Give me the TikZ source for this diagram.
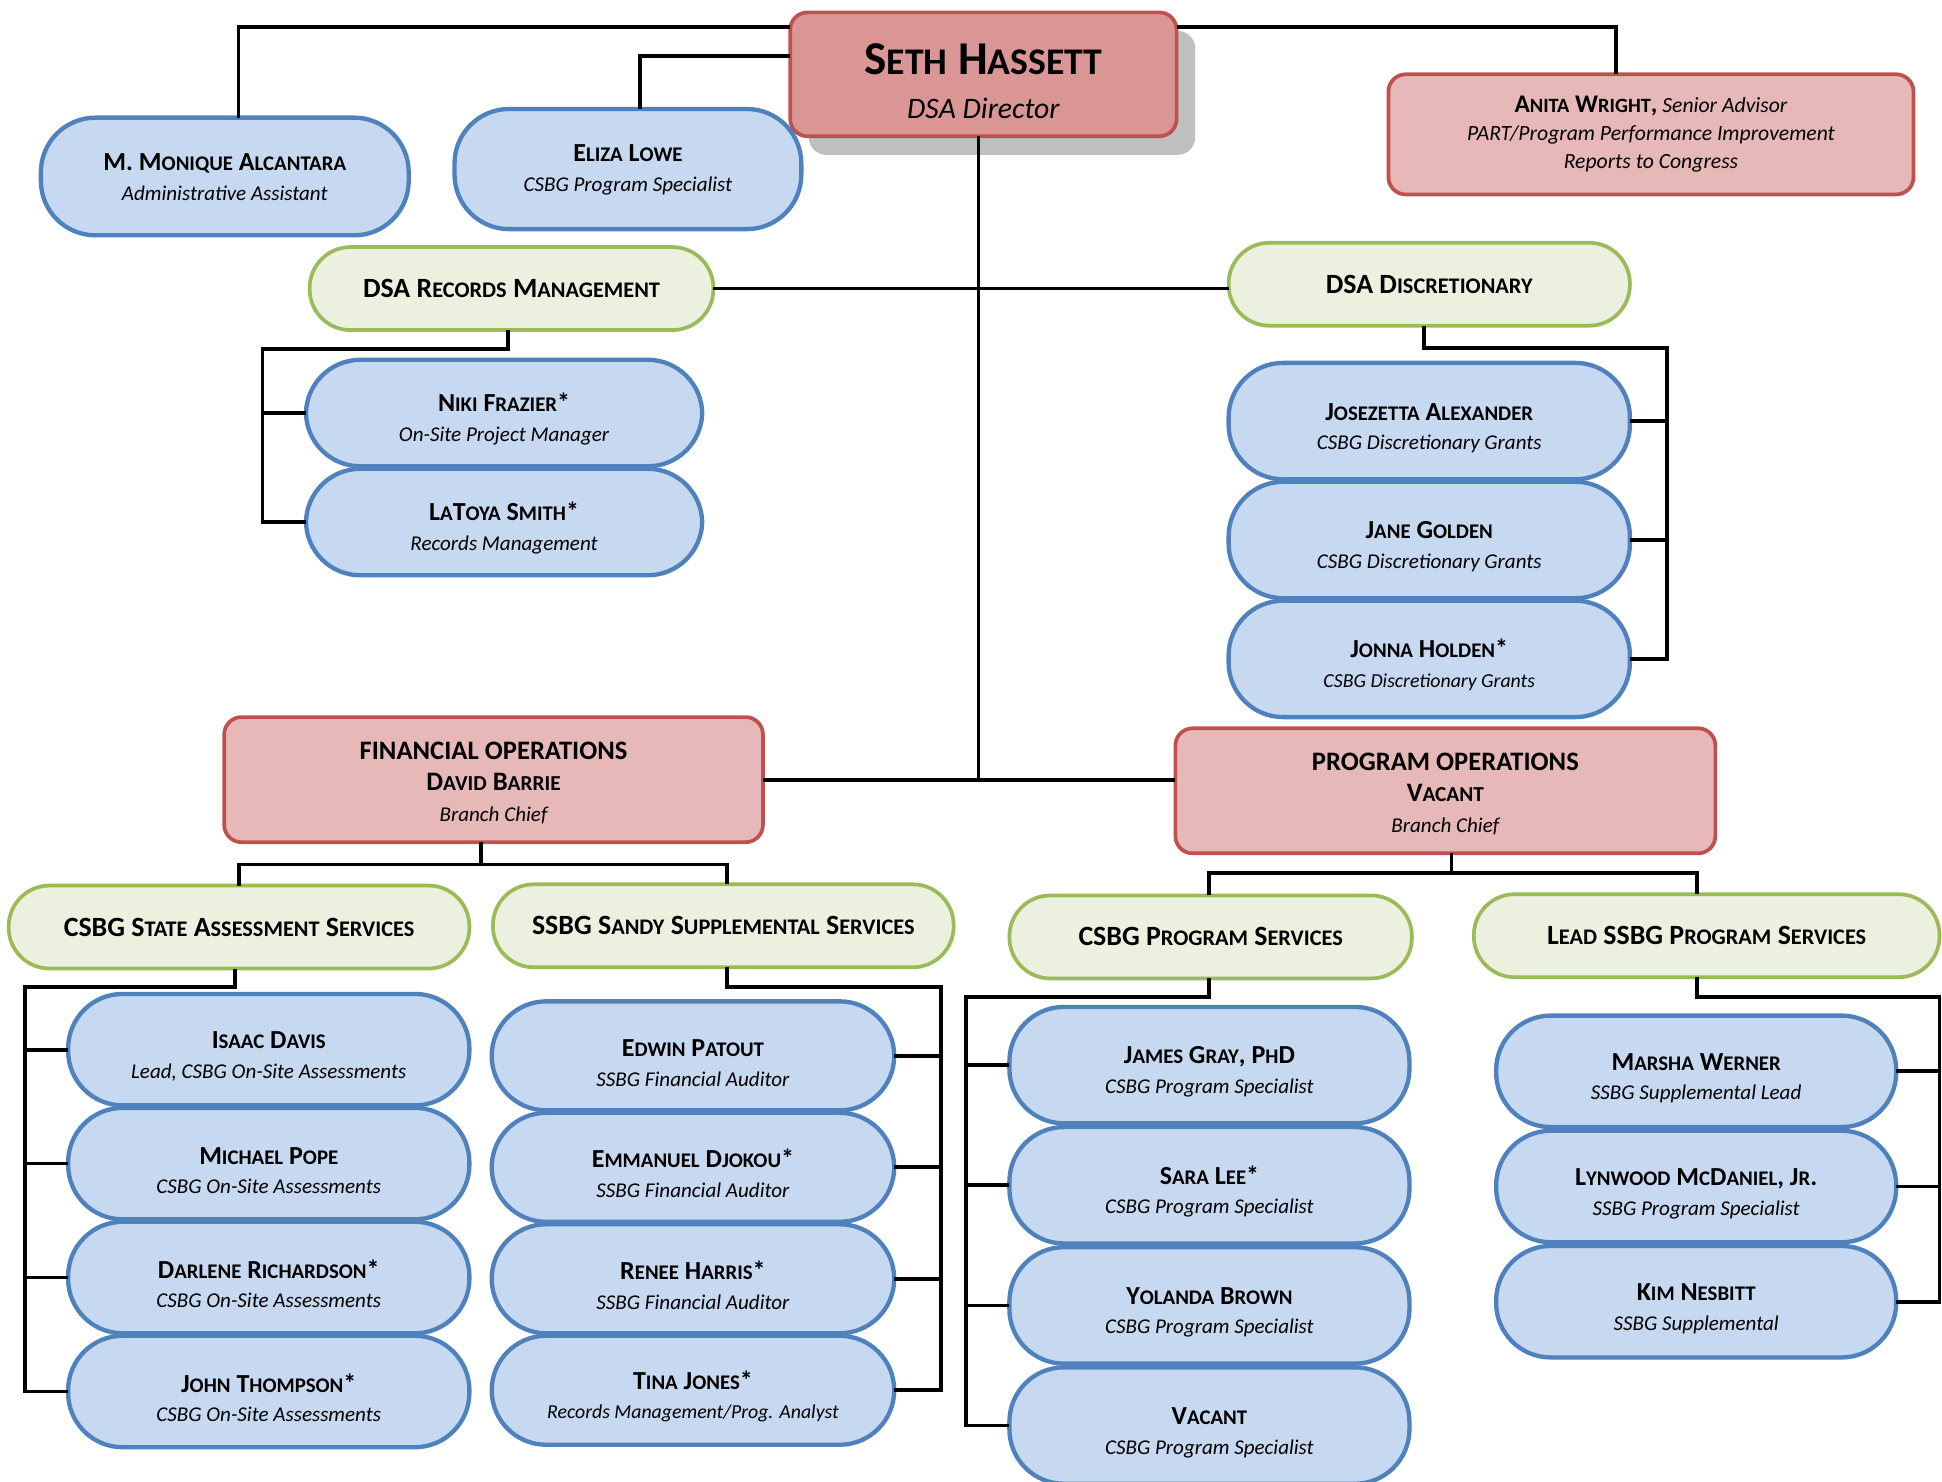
\documentclass[tikz,border=0pt]{standalone}
\usepackage{fontspec}
\setmainfont{Carlito}
\usetikzlibrary{positioning, calc, shadows}
\definecolor{StaffBlue}{HTML}{C6D9F1}
\definecolor{StaffBlueLine}{HTML}{4F81BD}
\definecolor{UnitGreen}{HTML}{EBF1DE}
\definecolor{UnitGreenLine}{HTML}{9BBB59}
\definecolor{ChiefRed}{HTML}{D99694}
\definecolor{ChiefRedLight}{HTML}{E6B9B8}
\definecolor{ChiefRedLine}{HTML}{C0504D}

% Versalitas simuladas (Carlito no trae smcp)
\makeatletter
\newcommand{\fscsmall}{\fontsize{\fpeval{0.8*\f@size}}{\f@baselineskip}\selectfont}
\makeatother
\ExplSyntaxOn
\tl_new:N \l_fsc_tl
\NewDocumentCommand{\fsc}{m}
  {
    \tl_set:Nn \l_fsc_tl {#1}
    \regex_replace_all:nnN { ([a-z]+) }
      { \cB\{ \c{fscsmall} \c{MakeUppercase} \cB\{ \1 \cE\} \cE\} } \l_fsc_tl
    \tl_use:N \l_fsc_tl
  }
\ExplSyntaxOff

\newcommand{\pname}[2][25pt]{{\rule{0pt}{#1}\fontsize{21}{24}\selectfont\bfseries\fsc{#2}}}
\newcommand{\prole}[1]{{\itshape #1}}

\begin{document}
\begin{tikzpicture}[
    x=1pt, y=-1pt,
    % Personas (cajas azules)
    person/.style={
            rectangle,
            rounded corners=44pt,
            minimum width=324pt,
            minimum height=90pt,
            inner sep=0pt,
            outer sep=0pt,
            align=center,
            font=\fontsize{17}{24}\selectfont,
            fill=StaffBlue,
            draw=StaffBlueLine,
            line width=3.5pt
        },
    % Unidades (cajas verdes)
    unit/.style={
            rectangle,
            rounded corners=33pt,
            minimum height=67pt,
            inner sep=0pt,
            outer sep=0pt,
            font=\fontsize{22.5}{24}\selectfont\bfseries,
            fill=UnitGreen,
            draw=UnitGreenLine,
            line width=3pt
        },
    % Jefes (cajas rojas)
    chief/.style={
            rectangle,
            rounded corners=14pt,
            minimum height=101pt,
            inner sep=0pt,
            outer sep=0pt,
            align=center,
            font=\fontsize{17}{25}\selectfont,
            fill=ChiefRedLight,
            draw=ChiefRedLine,
            line width=3pt
        },
    % Conectores
    conn/.style={
            line width=3pt,
            color=black
        }
    ]

    \useasboundingbox (0,0) rectangle (1568,1196);

    % ========== DIRECTOR ==========
    \node[chief, fill=ChiefRed, minimum width=312pt, minimum height=100pt,
        font=\fontsize{24}{35}\selectfont,
        drop shadow={shadow xshift=15pt, shadow yshift=-15pt, fill=black!25, opacity=1}]
        (seth) at (794,60) {\rule{0pt}{36pt}{\fontsize{38}{35}\selectfont\bfseries\fsc{Seth Hassett}}\\\itshape DSA Director};

    % ========== STAFF DEL DIRECTOR ==========
    \node[person, minimum width=297pt, minimum height=95pt] (monique) at (181.5,142.5)
        {\pname[15pt]{M. Monique Alcantara}\\\prole{Administrative Assistant}};
    \node[person, minimum width=280pt, minimum height=97pt] (eliza) at (507,136.5)
        {\pname[15pt]{Eliza Lowe}\\\prole{CSBG Program Specialist}};
    \node[chief, minimum width=424pt, minimum height=97pt, font=\fontsize{17.5}{22.5}\selectfont] (anita) at (1333,108.5)
        {{\fontsize{20.5}{22.5}\selectfont\bfseries\fsc{Anita Wright,}} \itshape Senior Advisor\\\itshape PART/Program Performance Improvement\\\itshape Reports to Congress};

    % ========== UNIDADES DSA ==========
    \node[unit, minimum width=326pt] (records) at (413,233) {\fsc{DSA Records Management}};
    \node[unit, minimum width=324pt] (discret) at (1154,229.5) {\fsc{DSA Discretionary}};

    % Records management
    \node[person, minimum width=320pt, minimum height=86pt] (niki) at (407,333.5)
        {\pname{Niki Frazier*}\\\prole{On-Site Project Manager}};
    \node[person, minimum width=320pt, minimum height=86pt, below=2pt of niki] (latoya)
        {\pname{LaToya Smith*}\\\prole{Records Management}};

    % Discretionary
    \node[person, minimum height=94pt] (jose) at (1154,340)
        {\pname{Josezetta Alexander}\\\prole{CSBG Discretionary Grants}};
    \node[person, minimum height=94pt, below=2pt of jose] (jane)
        {\pname{Jane Golden}\\\prole{CSBG Discretionary Grants}};
    \node[person, minimum height=94pt, below=2pt of jane] (jonna)
        {\pname{Jonna Holden*}\\\prole{\fontsize{16}{24}\selectfont CSBG Discretionary Grants}};

    % ========== OPERACIONES ==========
    \node[chief, minimum width=435pt] (finops) at (398.5,629.5)
        {\rule{0pt}{20pt}{\fontsize{21.5}{25}\selectfont\bfseries FINANCIAL OPERATIONS}\\{\fontsize{21.5}{25}\selectfont\bfseries\fsc{David Barrie}}\\\itshape Branch Chief};
    \node[chief, minimum width=436pt] (progops) at (1167,638.5)
        {\rule{0pt}{20pt}{\fontsize{21.5}{25}\selectfont\bfseries PROGRAM OPERATIONS}\\{\fontsize{21.5}{25}\selectfont\bfseries\fsc{Vacant}}\\\itshape Branch Chief};

    % Unidades de operaciones
    \node[unit, minimum width=372pt] (csbgsa) at (193,748.5) {\fsc{CSBG State Assessment Services}};
    \node[unit, minimum width=372pt] (sandy) at (584,747.5) {\fsc{SSBG Sandy Supplemental Services}};
    \node[unit, minimum width=325pt] (csbgps) at (977.5,756.5) {\fsc{CSBG Program Services}};
    \node[unit, minimum width=376pt] (leadssbg) at (1378,755.5) {\fsc{Lead SSBG Program Services}};

    % CSBG State Assessment
    \node[person] (isaac) at (217,847.5)
        {\pname{Isaac Davis}\\\prole{Lead, CSBG On-Site Assessments}};
    \node[person, below=2pt of isaac] (michael)
        {\pname{Michael Pope}\\\prole{CSBG On-Site Assessments}};
    \node[person, below=2pt of michael] (darlene)
        {\pname{Darlene Richardson*}\\\prole{CSBG On-Site Assessments}};
    \node[person, below=2pt of darlene] (john)
        {\pname{John Thompson*}\\\prole{CSBG On-Site Assessments}};

    % SSBG Sandy
    \node[person, minimum width=325pt, minimum height=88pt] (edwin) at (559.5,852.5)
        {\pname{Edwin Patout}\\\prole{SSBG Financial Auditor}};
    \node[person, minimum width=325pt, minimum height=88pt, below=2pt of edwin] (emmanuel)
        {\pname{Emmanuel Djokou*}\\\prole{SSBG Financial Auditor}};
    \node[person, minimum width=325pt, minimum height=88pt, below=2pt of emmanuel] (renee)
        {\pname{Renee Harris*}\\\prole{SSBG Financial Auditor}};
    \node[person, minimum width=325pt, minimum height=88pt, below=2pt of renee] (tina)
        {\pname{Tina Jones*}\\\prole{\fontsize{16}{24}\selectfont Records Management/Prog. Analyst}};

    % CSBG Program Services
    \node[person, minimum width=323pt, minimum height=94pt] (james) at (976.5,860)
        {\pname{James Gray, PhD}\\\prole{CSBG Program Specialist}};
    \node[person, minimum width=323pt, minimum height=94pt, below=3pt of james] (sara)
        {\pname{Sara Lee*}\\\prole{CSBG Program Specialist}};
    \node[person, minimum width=323pt, minimum height=94pt, below=3pt of sara] (yolanda)
        {\pname{Yolanda Brown}\\\prole{CSBG Program Specialist}};
    \node[person, minimum width=323pt, minimum height=94pt, below=3pt of yolanda] (vacantps)
        {\pname{Vacant}\\\prole{CSBG Program Specialist}};

    % Lead SSBG
    \node[person, minimum width=323pt] (marsha) at (1369.5,865)
        {\pname{Marsha Werner}\\\prole{SSBG Supplemental Lead}};
    \node[person, minimum width=323pt, below=3pt of marsha] (lynwood)
        {\pname{Lynwood McDaniel, Jr.}\\\prole{SSBG Program Specialist}};
    \node[person, minimum width=323pt, below=3pt of lynwood] (kim)
        {\pname{Kim Nesbitt}\\\prole{SSBG Supplemental}};

    % ========== CONECTORES ==========
    % Director a staff
    \draw[conn] ([yshift=-12pt]seth.north west) -| ([xshift=11pt]monique.north);
    \draw[conn] ([yshift=-35pt]seth.north west) -| ([xshift=10pt]eliza.north);
    \draw[conn] ([yshift=-12pt]seth.north east) -| ([xshift=-28pt]anita.north);

    % Tronco central
    \draw[conn] ([xshift=-4pt]seth.south) -- ([xshift=-4pt]seth.south |- finops.east);
    \draw[conn] (records.east) -- (records.east -| discret.west);
    \draw[conn] (finops.east) -- (finops.east -| progops.west);

    % Records management
    \coordinate (rmspine) at (212,282);
    \draw[conn] ([xshift=-3pt]records.south) |- (rmspine) |- (latoya.west);
    \draw[conn] (niki.west) -- (niki.west -| rmspine);

    % Discretionary
    \coordinate (dsspine) at (1346,281);
    \draw[conn] ([xshift=-4pt]discret.south) |- (dsspine) |- (jonna.east);
    \foreach \n in {jose, jane}
        \draw[conn] (\n.east) -- (\n.east -| dsspine);

    % Operaciones a unidades
    \draw[conn] ([xshift=-10pt]finops.south) -- ++(0,18);
    \draw[conn] (csbgsa.north) -- ++(0,-17) -| ([xshift=3pt]sandy.north);
    \draw[conn] ([xshift=5pt]progops.south) -- ++(0,16);
    \draw[conn] ([xshift=-1.5pt]csbgps.north) -- ++(0,-18) -| ([xshift=-8pt]leadssbg.north);

    % Unidades a personas
    \coordinate (saspine) at (20,797);
    \draw[conn] ([xshift=-3pt]csbgsa.south) |- (saspine) |- (john.west);
    \foreach \n in {isaac, michael, darlene}
        \draw[conn] (\n.west) -- (\n.west -| saspine);

    \coordinate (ssspine) at (760,797);
    \draw[conn] ([xshift=3pt]sandy.south) |- (ssspine) |- (tina.east);
    \foreach \n in {edwin, emmanuel, renee}
        \draw[conn] (\n.east) -- (\n.east -| ssspine);

    \coordinate (psspine) at (780,805);
    \draw[conn] ([xshift=-1.5pt]csbgps.south) |- (psspine) |- (vacantps.west);
    \foreach \n in {james, sara, yolanda}
        \draw[conn] (\n.west) -- (\n.west -| psspine);

    \coordinate (lsspine) at (1566,805);
    \draw[conn] ([xshift=-8pt]leadssbg.south) |- (lsspine) |- (kim.east);
    \foreach \n in {marsha, lynwood}
        \draw[conn] (\n.east) -- (\n.east -| lsspine);

\end{tikzpicture}
\end{document}
